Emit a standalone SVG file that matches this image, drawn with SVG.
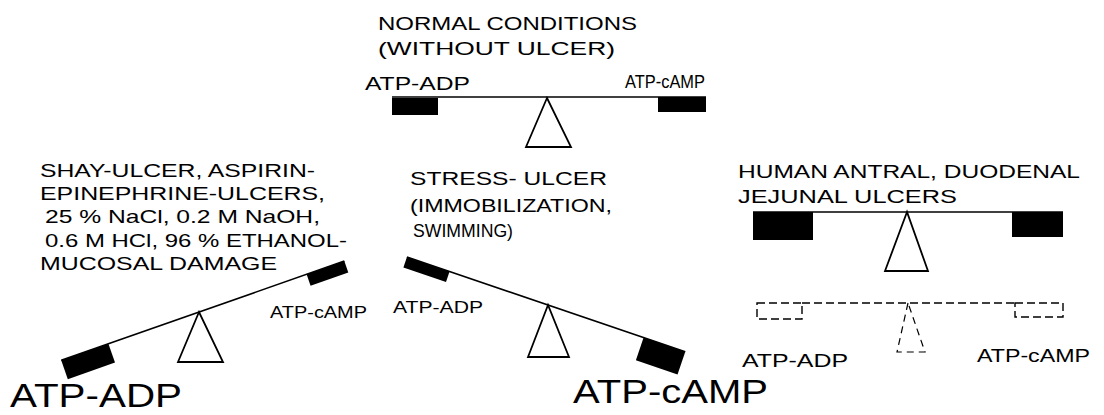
<svg xmlns="http://www.w3.org/2000/svg" width="1104" height="415" viewBox="0 0 1104 415">
<style>
text{font-family:"Liberation Sans",Arial,sans-serif;fill:#000}
.t{font-size:19px}
.s{font-size:16px}
.beam{stroke:#000;stroke-width:1.6;fill:none}
.blk{fill:#000}
.tri{fill:#fff;stroke:#000;stroke-width:1.8;stroke-linejoin:miter}
.dash{fill:none;stroke:#000;stroke-width:1.4;stroke-dasharray:8 4}
.dtri{fill:none;stroke:#000;stroke-width:1.2;stroke-dasharray:7 5}
</style>
<rect width="1104" height="415" fill="#fff"/>

<g id="normal">
<text class="t" x="378" y="30" font-size="20" textLength="259" lengthAdjust="spacingAndGlyphs">NORMAL CONDITIONS</text>
<text class="t" x="378" y="55" font-size="20" textLength="237" lengthAdjust="spacingAndGlyphs">(WITHOUT ULCER)</text>
<text class="t" x="365" y="90" textLength="105" lengthAdjust="spacingAndGlyphs">ATP-ADP</text>
<text class="t" x="625" y="88" textLength="80" lengthAdjust="spacingAndGlyphs">ATP-cAMP</text>
<line class="beam" x1="392" y1="97" x2="706" y2="97"/>
<rect class="blk" x="392" y="98" width="46" height="17"/>
<rect class="blk" x="658" y="97" width="48" height="15"/>
<polygon class="tri" points="547,98 526,147 571,147"/>
</g>

<g id="shay">
<text class="t" x="40" y="177" font-size="18" textLength="275" lengthAdjust="spacingAndGlyphs">SHAY-ULCER, ASPIRIN-</text>
<text class="t" x="40" y="200" font-size="18" textLength="285" lengthAdjust="spacingAndGlyphs">EPINEPHRINE-ULCERS,</text>
<text class="t" x="45" y="223" font-size="18" textLength="275" lengthAdjust="spacingAndGlyphs">25 % NaCl, 0.2 M NaOH,</text>
<text class="t" x="45" y="247" font-size="18" textLength="302" lengthAdjust="spacingAndGlyphs">0.6 M HCl, 96 % ETHANOL-</text>
<text class="t" x="40" y="270" font-size="18" textLength="237" lengthAdjust="spacingAndGlyphs">MUCOSAL DAMAGE</text>
<text class="s" x="270" y="318" textLength="97" lengthAdjust="spacingAndGlyphs">ATP-cAMP</text>
<text x="10" y="407" font-size="33" textLength="172" lengthAdjust="spacingAndGlyphs">ATP-ADP</text>
<g transform="translate(199,312) rotate(-19.3)">
<line class="beam" x1="-146" y1="0" x2="154" y2="0"/>
<rect class="blk" x="-146" y="0" width="50" height="20"/>
<rect class="blk" x="114" y="0" width="40" height="12"/>
</g>
<polygon class="tri" points="199,312 178,362 223,362"/>
</g>

<g id="stress">
<text class="t" x="410" y="185" textLength="197" lengthAdjust="spacingAndGlyphs">STRESS- ULCER</text>
<text class="t" x="410" y="212" textLength="202" lengthAdjust="spacingAndGlyphs">(IMMOBILIZATION,</text>
<text class="t" x="413" y="237" textLength="100" lengthAdjust="spacingAndGlyphs">SWIMMING)</text>
<text class="s" x="393" y="313" textLength="90" lengthAdjust="spacingAndGlyphs">ATP-ADP</text>
<text x="573" y="403" font-size="33" textLength="195" lengthAdjust="spacingAndGlyphs">ATP-cAMP</text>
<g transform="translate(548,305) rotate(18.8)">
<line class="beam" x1="-149" y1="0" x2="145" y2="0"/>
<rect class="blk" x="-149" y="0" width="45" height="11"/>
<rect class="blk" x="101" y="0" width="44" height="24"/>
</g>
<polygon class="tri" points="548,305 528,357 569,357"/>
</g>

<g id="human">
<text class="t" x="738" y="178" textLength="342" lengthAdjust="spacingAndGlyphs">HUMAN ANTRAL, DUODENAL</text>
<text class="t" x="738" y="203" textLength="219" lengthAdjust="spacingAndGlyphs">JEJUNAL ULCERS</text>
<line class="beam" x1="753" y1="212" x2="1063" y2="212"/>
<rect class="blk" x="753" y="212" width="60" height="28"/>
<rect class="blk" x="1012" y="212" width="51" height="25"/>
<polygon class="tri" points="907,212 885,271 928,271"/>
</g>

<g id="human-dashed">
<line class="dash" x1="802" y1="303" x2="1015" y2="303"/>
<rect class="dash" x="757" y="303" width="45" height="16"/>
<rect class="dash" x="1015" y="303" width="48" height="14"/>
<polygon class="dtri" points="908,303 897,352 925,352"/>
<text class="t" x="742" y="367" textLength="106" lengthAdjust="spacingAndGlyphs">ATP-ADP</text>
<text class="t" x="977" y="362" textLength="113" lengthAdjust="spacingAndGlyphs">ATP-cAMP</text>
</g>

<g id="connectors"></g>
</svg>
